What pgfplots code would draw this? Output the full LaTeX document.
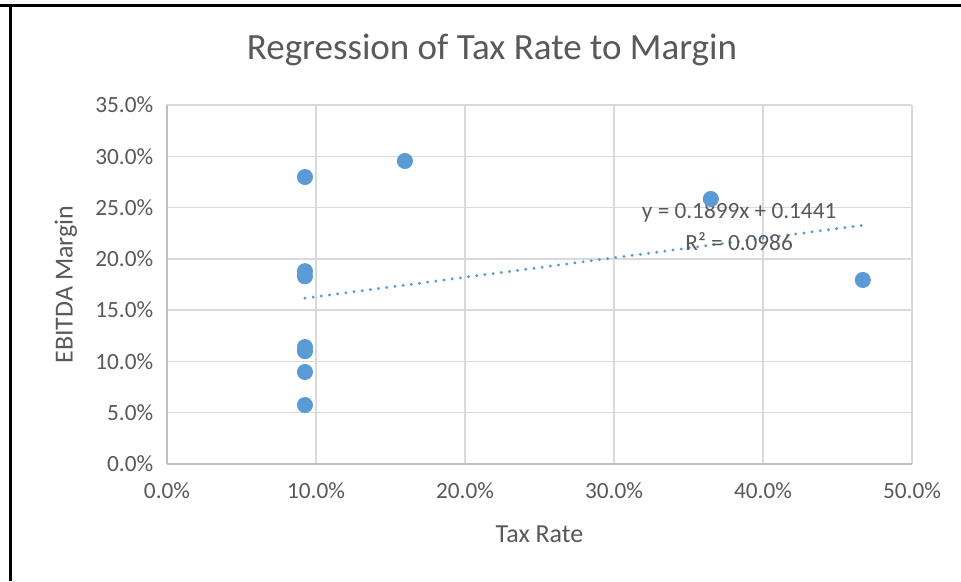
\documentclass[border=0pt]{standalone}
\usepackage{pgfplots}
\pgfplotsset{compat=1.18}
\usepackage{fontspec}
\setmainfont{Carlito}
\definecolor{txt}{HTML}{595959}
\definecolor{gridc}{HTML}{D9D9D9}
\definecolor{axl}{HTML}{BFBFBF}
\definecolor{blu}{HTML}{5B9BD5}
\begin{document}
\begin{tikzpicture}[x=0.4pt,y=0.4pt]
\useasboundingbox (0,0) rectangle (961,581);
\fill[white] (0,0) rectangle (961,581);
\draw[black,line width=1.0pt] (0,575.5) -- (961,575.5);
\draw[black,line width=1.0pt] (10.5,0) -- (10.5,576);
\begin{axis}[
  at={(167*0.4pt,117*0.4pt)}, anchor=south west,
  scale only axis, width=745*0.4pt, height=359*0.4pt,
  xmin=0, xmax=0.5, ymin=0, ymax=0.35,
  xtick={0,0.1,0.2,0.3,0.4,0.5},
  xticklabels={0.0\%,10.0\%,20.0\%,30.0\%,40.0\%,50.0\%},
  ytick={0,0.05,0.1,0.15,0.2,0.25,0.3,0.35},
  yticklabels={0.0\%,5.0\%,10.0\%,15.0\%,20.0\%,25.0\%,30.0\%,35.0\%},
  grid=major, major grid style={draw=gridc, line width=0.6pt},
  axis line style={draw=none},
  tick style={draw=none},
  ticklabel style={font=\fontsize{9.3}{11}\selectfont, text=txt},
  xticklabel style={yshift=-4pt},
  yticklabel style={xshift=-2pt},
  clip=false,
]
\draw[axl, line width=0.6pt] (axis cs:0,0) -- (axis cs:0.5,0);
\draw[axl, line width=0.6pt] (axis cs:0,0) -- (axis cs:0,0.35);
\addplot[only marks, mark=*, mark size=3pt, mark options={fill=blu, draw=blu}] coordinates {
 (0.0926,0.2798) (0.1597,0.2954) (0.0926,0.1880) (0.0926,0.1830)
 (0.0926,0.1140) (0.0926,0.1100) (0.0926,0.0897) (0.0926,0.0575)
 (0.3650,0.2584) (0.4670,0.1794)
};
\addplot[blu, line width=1.3pt, line cap=round, dash pattern=on 0pt off 3.3pt] coordinates {
 (0.0926,0.1617) (0.4670,0.2328)
};
\node[text=txt, font=\fontsize{9.3}{11}\selectfont] at (axis cs:0.384,0.2457) {y = 0.1899x + 0.1441};
\node[text=txt, font=\fontsize{9.3}{11}\selectfont] at (axis cs:0.384,0.2164) {R² = 0.0986};
\end{axis}
\node[text=txt, font=\fontsize{14.8}{17}\selectfont] at (492,581-50) {Regression of Tax Rate to Margin};
\node[text=txt, font=\fontsize{10.4}{12}\selectfont] at (539.5,581-534) {Tax Rate};
\node[text=txt, font=\fontsize{10.4}{12}\selectfont, rotate=90] at (66,581-284.5) {EBITDA Margin};
\end{tikzpicture}
\end{document}
